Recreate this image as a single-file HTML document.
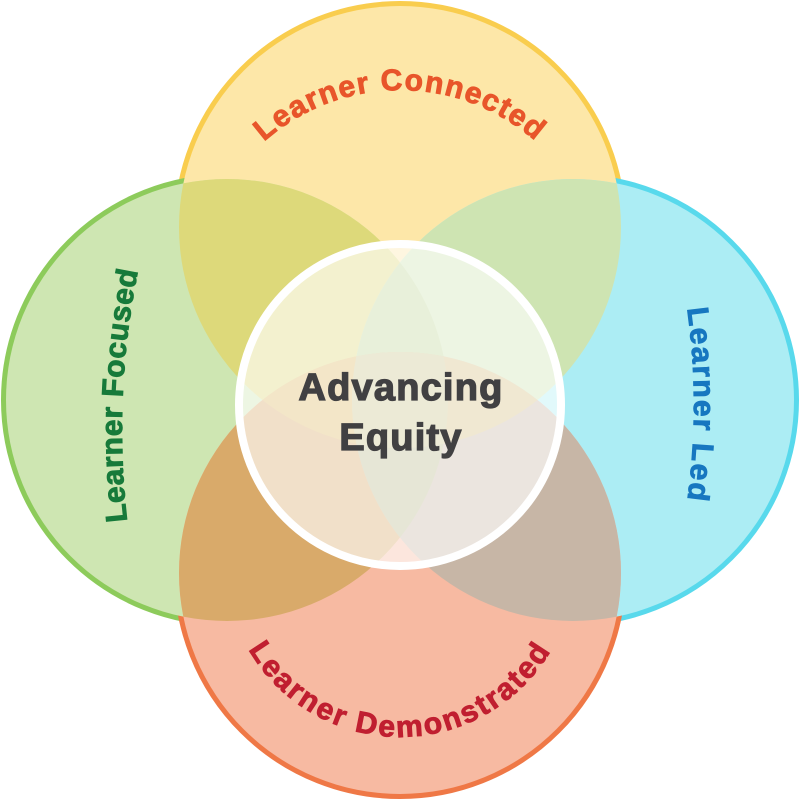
<!DOCTYPE html>
<html>
<head>
<meta charset="utf-8">
<style>
  html, body { margin: 0; padding: 0; background: #ffffff; }
  svg { display: block; }
  text { font-family: "Liberation Sans", "DejaVu Sans", sans-serif; font-weight: bold; }
</style>
</head>
<body>
<svg width="799" height="800" viewBox="0 0 799 800" xmlns="http://www.w3.org/2000/svg">
  <defs>
    <clipPath id="cT"><circle cx="400" cy="227" r="221"/></clipPath>
    <clipPath id="cL"><circle cx="227" cy="400" r="221"/></clipPath>
    <clipPath id="cR"><circle cx="573" cy="400" r="221"/></clipPath>
    <clipPath id="cB"><circle cx="400" cy="573" r="221"/></clipPath>
    <path id="pTop" d="M 222.5 192.5 A 205 205 0 0 1 577.5 192.5" fill="none"/>
    <path id="pBot" d="M 231 607.3 A 175 175 0 0 0 569 607.3" fill="none"/>
    <path id="pLeft" d="M 132.6 560 A 800 800 0 0 1 146.9 232" fill="none"/>
    <path id="pRight" d="M 686 300 A 700 700 0 0 1 686 510" fill="none"/>
  </defs>

  <!-- outer strokes (drawn under fills) -->
  <g fill="none" stroke-width="10">
    <circle cx="400" cy="227" r="221" stroke="#f9cd4e"/>
    <circle cx="227" cy="400" r="221" stroke="#8dcb5b"/>
    <circle cx="573" cy="400" r="221" stroke="#58d9ec"/>
    <circle cx="400" cy="573" r="221" stroke="#ef7846"/>
  </g>

  <!-- base fills -->
  <circle cx="400" cy="227" r="221" fill="#fde7a8"/>
  <circle cx="227" cy="400" r="221" fill="#cee6b2"/>
  <circle cx="573" cy="400" r="221" fill="#acedf4"/>
  <circle cx="400" cy="573" r="221" fill="#f7baa2"/>

  <!-- pair overlaps -->
  <g clip-path="url(#cT)"><circle cx="227" cy="400" r="221" fill="#ddd97a"/></g>
  <g clip-path="url(#cT)"><circle cx="573" cy="400" r="221" fill="#cee4b2"/></g>
  <g clip-path="url(#cL)"><circle cx="400" cy="573" r="221" fill="#d9aa6a"/></g>
  <g clip-path="url(#cR)"><circle cx="400" cy="573" r="221" fill="#c7b6a6"/></g>

  <!-- inner regions -->
  <g clip-path="url(#cL)"><g clip-path="url(#cR)"><circle cx="400" cy="227" r="221" fill="#c0d699"/></g></g>
  <g clip-path="url(#cL)"><g clip-path="url(#cR)"><circle cx="400" cy="573" r="221" fill="#baba8e"/></g></g>
  <g clip-path="url(#cT)"><g clip-path="url(#cL)"><circle cx="400" cy="573" r="221" fill="#debb67"/></g></g>
  <g clip-path="url(#cT)"><g clip-path="url(#cR)"><circle cx="400" cy="573" r="221" fill="#d6c083"/></g></g>
  <g clip-path="url(#cT)"><g clip-path="url(#cL)"><g clip-path="url(#cR)"><circle cx="400" cy="573" r="221" fill="#cbc58e"/></g></g></g>

  <!-- center disc -->
  <circle cx="400" cy="405" r="161" fill="#ffffff" fill-opacity="0.64" stroke="#ffffff" stroke-width="8"/>

  <!-- center text -->
  <text x="401" y="400" text-anchor="middle" font-size="38" letter-spacing="1.2" fill="#414042" stroke="#414042" stroke-width="1.3">Advancing</text>
  <text x="401" y="450" text-anchor="middle" font-size="38" letter-spacing="1.2" fill="#414042" stroke="#414042" stroke-width="1.3">Equity</text>

  <!-- curved labels -->
  <text font-size="30" letter-spacing="1.4" fill="#e8552a" stroke="#e8552a" stroke-width="0.9">
    <textPath href="#pTop" startOffset="50%" text-anchor="middle">Learner Connected</textPath>
  </text>
  <text font-size="30" letter-spacing="2.3" fill="#c01f30" stroke="#c01f30" stroke-width="0.9">
    <textPath href="#pBot" startOffset="50%" text-anchor="middle">Learner Demonstrated</textPath>
  </text>
  <text font-size="30" letter-spacing="0.7" fill="#177a3a" stroke="#177a3a" stroke-width="0.9">
    <textPath href="#pLeft" startOffset="50%" text-anchor="middle">Learner Focused</textPath>
  </text>
  <text font-size="30" letter-spacing="2" fill="#1777c0" stroke="#1777c0" stroke-width="0.9">
    <textPath href="#pRight" startOffset="50%" text-anchor="middle">Learner Led</textPath>
  </text>
</svg>
</body>
</html>
